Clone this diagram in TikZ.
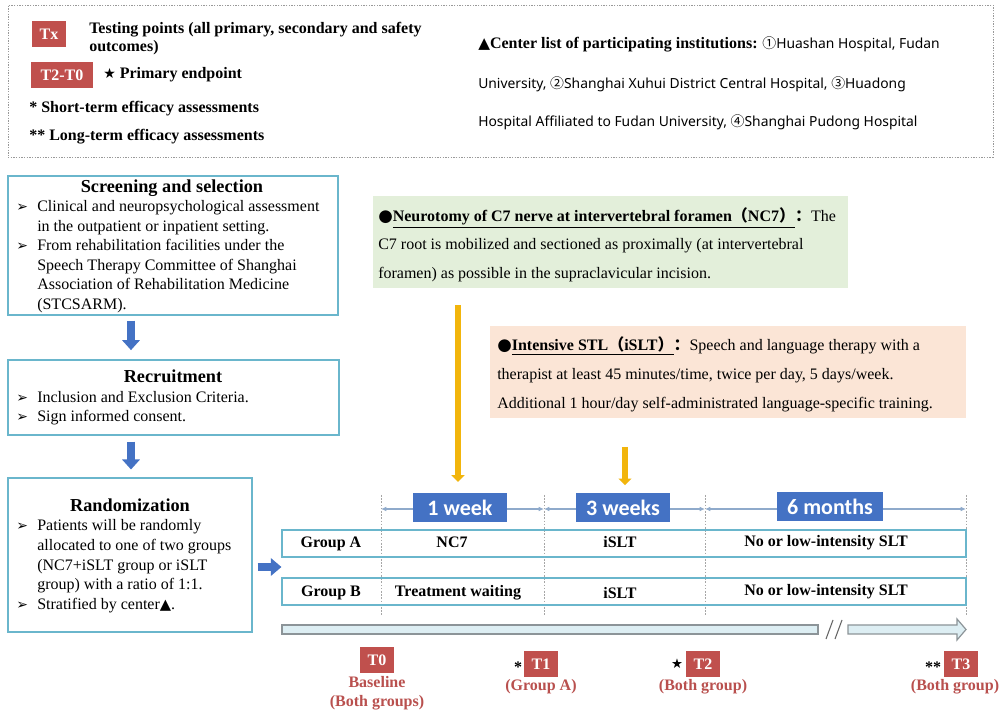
\documentclass[tikz,border=0pt]{standalone}
\usepackage{fontspec}
\setmainfont{Liberation Serif}
\newfontfamily\dvsym{DejaVu Sans}
\newfontfamily\cjk{Noto Sans CJK SC}
\newfontfamily\uisans{Noto Sans}
\newfontfamily\labfont{Carlito}
\usetikzlibrary{arrows.meta,fit,calc}

\definecolor{tealline}{HTML}{6AB6CC}
\definecolor{tagred}{HTML}{C0504D}
\definecolor{capred}{HTML}{B9504E}
\definecolor{lblue}{HTML}{4472C4}
\definecolor{gold}{HTML}{F2B50C}
\definecolor{greenbg}{HTML}{E3EFDA}
\definecolor{peachbg}{HTML}{FBE5D6}
\definecolor{tlfill}{HTML}{DDEEF3}
\definecolor{tlline}{HTML}{8C9498}
\definecolor{spanline}{HTML}{8FAACB}

\newcommand{\fs}[1]{\fontsize{#1}{#1}\selectfont}
\newcommand{\bul}{{\dvsym\fs{10.5}\char"27A2}}
\newcommand{\bigdot}{{\dvsym\fs{12.5}●}}

\tikzset{
  txt/.style={inner sep=0pt, anchor=base west, font=\fs{12}},
  ctxt/.style={inner sep=0pt, anchor=base, font=\fs{12}},
  frame/.style={draw=tealline, line width=0.8pt, inner sep=0pt},
  tag/.style={fill=tagred, text=white, inner sep=0pt, font=\bfseries\fs{12},
              minimum height=19.5pt},
  caption/.style={inner sep=0pt, anchor=base, text=capred, font=\bfseries\fs{12}},
  span/.style={fill=lblue, text=white, inner sep=0pt, font=\labfont\bfseries\fs{16.5},
               minimum height=21.75pt},
  row/.style={draw=tealline, line width=0.8pt, inner sep=0pt},
  rowtxt/.style={inner sep=0pt, anchor=base, font=\bfseries\fs{12}},
  title/.style={inner sep=0pt, anchor=base, font=\bfseries\fs{13.7}},
  sanstxt/.style={txt, font=\uisans\fs{10.4}},
  fatblue/.style={draw=lblue, line width=6pt,
                  -{Triangle[length=7.5pt,width=13pt]}},
  fatgold/.style={draw=gold, line width=3.8pt,
                  -{Triangle[length=5pt,width=9.5pt]}},
  spanarrow/.style={draw=spanline, line width=0.8pt,
                    {Latex[length=4pt,width=3.5pt]}-{Latex[length=4pt,width=3.5pt]}},
  tick/.style={draw=gray!70, line width=0.5pt, dash pattern=on 1.2pt off 1.2pt},
}

\begin{document}
\begin{tikzpicture}[x=0.75pt,y=-0.75pt]
\useasboundingbox (0,0) rectangle (1000,712);
\fill[white] (0,0) rectangle (1000,712);

% ---------------- legend ----------------
\node[draw=gray!80, line width=0.6pt, dash pattern=on 1pt off 1pt, inner sep=0pt,
      fit={(8,5)(993,157)}] (legend) {};
\node[tag, minimum width=25.5pt] (tx) at (49,34) {Tx};
\node[txt, font=\bfseries\fs{12}] (txd1) at (89,34) {Testing points (all primary, secondary and safety};
\node[txt, font=\bfseries\fs{12}] (txd2) at (89,52) {outcomes)};
\node[tag, minimum width=46.5pt] (t20) at (62,75) {T2-T0};
\node[txt, font=\bfseries\fs{12}] (prim) at (103,79) {{\dvsym\fs{10.5}★} Primary endpoint};
\node[txt, font=\bfseries\fs{12}] (short) at (29,113) {* Short-term efficacy assessments};
\node[txt, font=\bfseries\fs{12}] (long) at (29,141) {** Long-term efficacy assessments};

\node[sanstxt] (ctr1) at (478,49)
  {{\dvsym\fs{11.5}▲}{\bfseries\rmfamily\fs{12}Center list of participating institutions:} {\cjk ①}Huashan Hospital, Fudan};
\node[sanstxt] (ctr2) at (478,89)
  {University, {\cjk ②}Shanghai Xuhui District Central Hospital, {\cjk ③}Huadong};
\node[sanstxt] (ctr3) at (478,127)
  {Hospital Affiliated to Fudan University, {\cjk ④}Shanghai Pudong Hospital};

% ---------------- left column ----------------
\node[frame, fit={(8,176)(338,315)}] (screen) {};
\node[title] at (172,193) {Screening and selection};
\node[txt] at (16,212) {\bul};
\node[txt] at (37,212) {Clinical and neuropsychological assessment};
\node[txt] at (37,232) {in the outpatient or inpatient setting.};
\node[txt] at (16,251) {\bul};
\node[txt] at (37,251) {From rehabilitation facilities under the};
\node[txt] at (37,271) {Speech Therapy Committee of Shanghai};
\node[txt] at (37,290) {Association of Rehabilitation Medicine};
\node[txt] at (37,310) {(STCSARM).};

\node[frame, fit={(8,360)(339,435)}] (recruit) {};
\node[title] at (173,383) {Recruitment};
\node[txt] at (16,403) {\bul};
\node[txt] at (37,403) {Inclusion and Exclusion Criteria.};
\node[txt] at (16,422) {\bul};
\node[txt] at (37,422) {Sign informed consent.};

\node[frame, fit={(8,478)(252,632)}] (random) {};
\node[title] at (130,512) {Randomization};
\node[txt] at (16,531) {\bul};
\node[txt] at (37,531) {Patients will be randomly};
\node[txt] at (37,551) {allocated to one of two groups};
\node[txt] at (37,571) {(NC7+iSLT group or iSLT};
\node[txt] at (37,590) {group) with a ratio of 1:1.};
\node[txt] at (16,610) {\bul};
\node[txt] at (37,610) {Stratified by center{\dvsym\fs{11}▲}.};

\coordinate (ax) at (131,0);
\draw[fatblue, shorten <=3.75pt, shorten >=7pt] (ax |- screen.south) -- (ax |- recruit.north);
\draw[fatblue, shorten <=4.5pt, shorten >=6pt] (ax |- recruit.south) -- (ax |- random.north);

% ---------------- intervention boxes ----------------
\node[fill=greenbg, inner sep=0pt, fit={(373,196)(848,288)}] (nc7box) {};
\node[txt] at (378,222) {\bigdot\underline{\bfseries Neurotomy of C7 nerve at intervertebral foramen{\cjk （}NC7{\cjk ）}}{\bfseries\cjk ：}The};
\node[txt] at (378,250) {C7 root is mobilized and sectioned as proximally (at intervertebral};
\node[txt] at (378,279) {foramen) as possible in the supraclavicular incision.};

\node[fill=peachbg, inner sep=0pt, fit={(490,326)(966,418)}] (slt) {};
\node[txt] at (497,351) {\bigdot\underline{\bfseries Intensive STL{\cjk （}iSLT{\cjk ）}}{\bfseries\cjk ：}Speech and language therapy with a};
\node[txt] at (497,380) {therapist at least 45 minutes/time, twice per day, 5 days/week.};
\node[txt] at (497,409) {Additional 1 hour/day self-administrated language-specific training.};

% ---------------- timeline ----------------
\coordinate (s0) at (381,509);
\coordinate (s1) at (544,509);
\coordinate (s2) at (705,509);
\coordinate (s3) at (966,509);
\foreach \c in {s0,s1,s2,s3} \draw[tick] ($(\c)+(0,-14)$) -- ($(\c)+(0,107)$);

\node[row, fit={(282,530)(966,557)}] (rowA) {};
\node[row, fit={(282,578)(966,605)}] (rowB) {};

\draw[spanarrow] (s0) -- (s1);
\draw[spanarrow] (s1) -- (s2);
\draw[spanarrow] (s2) -- (s3);
\node[span, minimum width=71pt] (wk1) at (460,508) {1 week};
\node[span, minimum width=71pt] (wk3) at (623,508) {3 weeks};
\node[span, minimum width=80pt] (mo6) at (830,507) {6 months};

\node[rowtxt] at (331,548) {Group A};
\node[rowtxt] at (452,548) {NC7};
\node[rowtxt] at (620,548) {iSLT};
\node[rowtxt] at (826,547) {No or low-intensity SLT};
\node[rowtxt] at (331,597) {Group B};
\node[rowtxt] at (458,597) {Treatment waiting};
\node[rowtxt] at (620,599) {iSLT};
\node[rowtxt] at (826,596) {No or low-intensity SLT};

\coordinate (ry) at (0,567);
\coordinate (g1) at (458,0);
\coordinate (g2) at (625,0);
\draw[fatblue, line width=5.5pt, -{Triangle[length=8pt,width=13pt]}, shorten <=3.75pt]
  (random.east |- ry) -- (rowA.west |- ry);

\draw[fatgold, shorten <=12.75pt, shorten >=8.5pt] (g1 |- nc7box.south) -- (g1 |- wk1.north);
\draw[fatgold, shorten <=21.5pt, shorten >=6pt] (g2 |- slt.south) -- (g2 |- wk3.north);

% time axis with a break
\filldraw[fill=tlfill, draw=tlline, line width=0.9pt] (282,625) rectangle (818,634);
\draw[draw=gray!80!black, line width=0.8pt] (826,639) -- (833,620) (835,639) -- (842,620);
\filldraw[fill=tlfill, draw=tlline, line width=0.9pt]
  (848,625) -- (957,625) -- (957,619) -- (966,629.5) -- (957,640) -- (957,634) -- (848,634) -- cycle;

% testing points
\node[tag, minimum width=25pt, minimum height=20pt] (T0) at (377,660) {T0};
\node[caption] at (377,687) {Baseline};
\node[caption] at (377,706) {(Both groups)};
\node[tag, minimum width=25pt, minimum height=20pt] (T1) at (541,664) {T1};
\node[inner sep=0pt, font=\bfseries\fs{12}] at (518,667) {*};
\node[caption] at (541,691) {(Group A)};
\node[tag, minimum width=25pt, minimum height=20pt] (T2) at (703,664) {T2};
\node[inner sep=0pt, font=\dvsym\fs{10}] at (677,664) {★};
\node[caption] at (703,691) {(Both group)};
\node[tag, minimum width=25pt, minimum height=20pt] (T3) at (961,664) {T3};
\node[inner sep=0pt, font=\bfseries\fs{12}] at (933,667) {**};
\node[caption] at (955,691) {(Both group)};
\end{tikzpicture}
\end{document}
